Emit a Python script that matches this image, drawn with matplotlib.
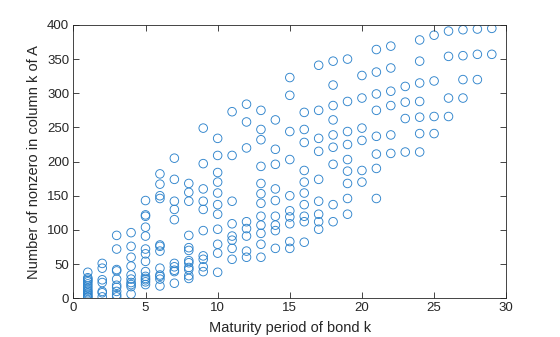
import matplotlib
matplotlib.use('Agg')
import matplotlib.pyplot as plt

# number of nonzeros per column, grouped by maturity period
nnz_by_maturity = {
    1: [38, 30, 28, 26, 24, 21, 18, 15, 12, 10, 8, 6, 4, 2, 1],
    2: [51, 44, 27, 23, 10, 8, 2],
    3: [92, 72, 42, 40, 28, 19, 16, 10, 5, 2],
    4: [96, 76, 60, 47, 34, 28, 23, 20, 17, 6],
    5: [143, 122, 120, 104, 91, 72, 65, 54, 39, 32, 29, 27, 24, 20],
    6: [182, 167, 150, 146, 78, 76, 69, 44, 34, 32, 28, 18],
    7: [205, 174, 142, 130, 115, 51, 46, 41, 39, 22],
    8: [168, 155, 142, 92, 74, 70, 55, 52, 45, 42, 33, 29],
    9: [249, 197, 160, 142, 130, 99, 62, 57, 46, 39],
    10: [234, 209, 184, 170, 154, 137, 123, 101, 79, 66, 38],
    11: [273, 209, 142, 109, 91, 85, 73, 57],
    12: [284, 258, 220, 112, 102, 91, 69, 60],
    13: [275, 247, 232, 193, 168, 153, 139, 120, 107, 95, 79, 60],
    14: [261, 218, 196, 160, 143, 120, 107, 99, 73],
    15: [323, 297, 244, 203, 150, 128, 119, 109, 83, 73],
    16: [272, 247, 228, 187, 170, 154, 137, 120, 112, 82],
    17: [341, 275, 234, 215, 174, 142, 123, 112, 101],
    18: [347, 312, 282, 261, 239, 221, 196, 137, 112],
    19: [350, 288, 244, 225, 203, 186, 168, 146, 123],
    20: [326, 293, 249, 231, 187, 170],
    21: [364, 331, 299, 275, 237, 211, 190, 146],
    22: [369, 337, 303, 282, 239, 212],
    23: [310, 287, 263, 214],
    24: [378, 347, 315, 288, 265, 241, 214],
    25: [385, 318, 266, 241],
    26: [391, 354, 293, 266],
    27: [393, 355, 320, 293],
    28: [394, 357, 320],
    29: [395, 357],
}

maturity = []
nnz = []
for k, vals in nnz_by_maturity.items():
    maturity += [k] * len(vals)
    nnz += vals

plt.rcParams['font.family'] = ['Liberation Sans', 'DejaVu Sans']
axcol = '#262626'

fig = plt.figure(figsize=(5.6, 3.37), dpi=100)
ax = fig.add_axes([0.131, 0.115, 0.773, 0.811])
ax.scatter(maturity, nnz, s=38, facecolors='none', edgecolors='#2f84cc', linewidths=0.65)

ax.set_xlim(0, 30)
ax.set_ylim(0, 400)
ax.set_xticks(range(0, 31, 5))
ax.set_yticks(range(0, 401, 50))
ax.tick_params(direction='in', top=True, right=True, length=4, width=0.6,
               colors=axcol, labelsize=9.5, pad=3)
for sp in ax.spines.values():
    sp.set_color(axcol)
    sp.set_linewidth(0.6)
ax.set_xlabel('Maturity period of bond k', fontsize=10.5, color=axcol, labelpad=5)
ax.set_ylabel('Number of nonzero in column k of A', fontsize=10.5, color=axcol, labelpad=4)

fig.savefig('out.png', dpi=100)
